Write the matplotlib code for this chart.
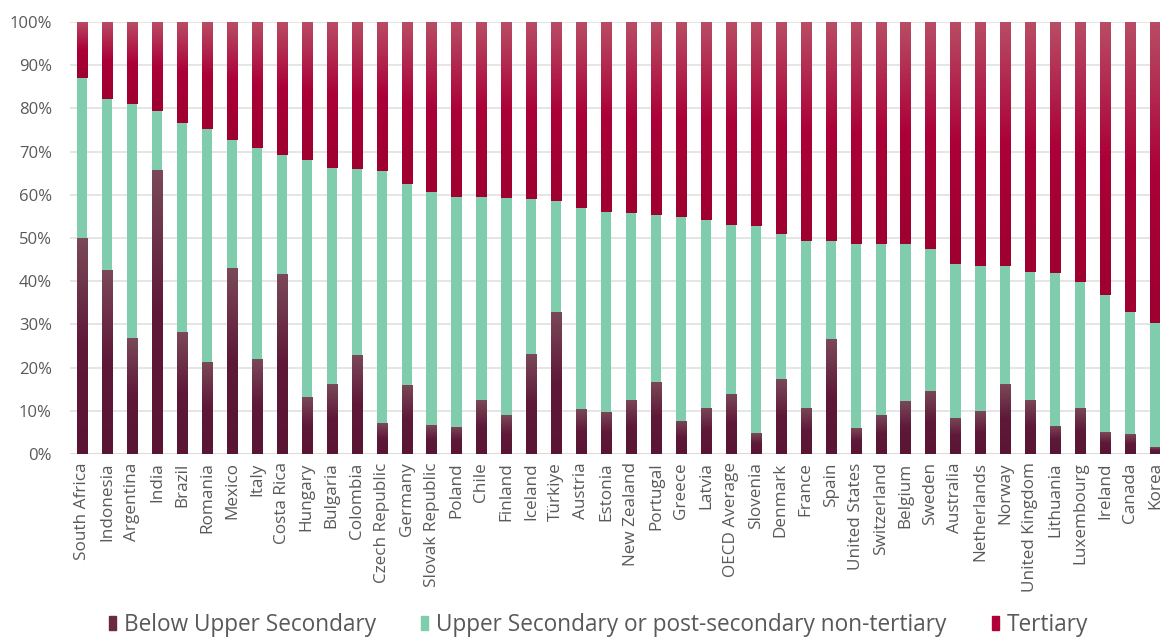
import matplotlib
matplotlib.use("Agg")
import matplotlib.pyplot as plt
import numpy as np
from matplotlib.colors import LinearSegmentedColormap
from matplotlib.patches import Patch

countries = ["South Africa", "Indonesia", "Argentina", "India", "Brazil", "Romania", "Mexico",
             "Italy", "Costa Rica", "Hungary", "Bulgaria", "Colombia", "Czech Republic", "Germany",
             "Slovak Republic", "Poland", "Chile", "Finland", "Iceland", "Türkiye", "Austria",
             "Estonia", "New Zealand", "Portugal", "Greece", "Latvia", "OECD Average", "Slovenia",
             "Denmark", "France", "Spain", "United States", "Switzerland", "Belgium", "Sweden",
             "Australia", "Netherlands", "Norway", "United Kingdom", "Lithuania", "Luxembourg",
             "Ireland", "Canada", "Korea"]

below_upper_secondary = [49.9, 42.5, 26.8, 65.7, 28.2, 21.3, 43.0, 22.0, 41.6, 13.1, 16.1, 22.8,
                         7.1, 16.0, 6.7, 6.3, 12.5, 9.0, 23.1, 32.9, 10.3, 9.8, 12.6, 16.7, 7.7,
                         10.7, 13.9, 4.8, 17.3, 10.7, 26.5, 5.9, 9.1, 12.2, 14.6, 8.4, 9.9, 16.1,
                         12.6, 6.5, 10.7, 5.0, 4.6, 1.6]
# cumulative top of "upper secondary" segment
upper_secondary_top = [87.0, 82.1, 81.1, 79.5, 76.7, 75.3, 72.7, 70.8, 69.1, 68.0, 66.1, 65.9,
                       65.4, 62.6, 60.7, 59.5, 59.5, 59.3, 59.0, 58.6, 56.9, 56.0, 55.8, 55.4,
                       54.8, 54.2, 52.9, 52.7, 51.0, 49.4, 49.4, 48.6, 48.6, 48.6, 47.5, 43.9,
                       43.5, 43.5, 42.2, 41.8, 39.8, 36.7, 32.9, 30.2]

below = np.array(below_upper_secondary)
upper = np.array(upper_secondary_top) - below
tertiary = 100 - np.array(upper_secondary_top)

fig = plt.figure(figsize=(11.6, 6.37), dpi=100)
ax = fig.add_axes([0.0602, 0.2874, 0.9463, 0.678])

x = np.arange(len(countries))
w = 0.41

maroon_cmap = LinearSegmentedColormap.from_list("m", ["#5a1535", "#5e1838", "#7a4858"])
red_cmap = LinearSegmentedColormap.from_list("r", ["#9e0030", "#ab0038", "#b84c64"])
green = "#80cdae"

grad = np.linspace(0, 1, 64).reshape(-1, 1)

b1 = ax.bar(x, below, w, color="#5e1838", zorder=2)
b2 = ax.bar(x, upper, w, bottom=below, color=green, zorder=2)
b3 = ax.bar(x, tertiary, w, bottom=below + upper, color="#a8003a", zorder=2)

for bars, cmap in ((b1, maroon_cmap), (b3, red_cmap)):
    for r in bars:
        x0, y0 = r.get_x(), r.get_y()
        x1, y1 = x0 + r.get_width(), y0 + r.get_height()
        im = ax.imshow(grad, cmap=cmap, aspect="auto", origin="lower",
                       extent=[x0, x1, y0, y1], zorder=3, interpolation="bilinear")
        im.set_clip_path(r)

ax.set_xlim(-0.5, len(countries) - 0.5)
ax.set_ylim(0, 100)
ax.set_yticks(np.arange(0, 101, 10))
ax.set_yticklabels([f"{v}%" for v in range(0, 101, 10)], fontsize=12, color="#595959",
                   family="Open Sans")
ax.set_xticks(x)
ax.set_xticklabels(countries, rotation=90, fontsize=12.3, color="#595959", family="Open Sans")
ax.tick_params(axis="both", length=0, pad=6)
ax.tick_params(axis="y", pad=13)
ax.grid(axis="y", color="#e0e0e0", linewidth=1.2, zorder=0)
ax.set_axisbelow(True)
for s in ax.spines.values():
    s.set_visible(False)
ax.axhline(0, color="#d9d9d9", linewidth=1.2, zorder=1)

handles = [Patch(color="#6a2a44"), Patch(color=green), Patch(color="#b00038")]
labels = ["Below Upper Secondary", "Upper Secondary or post-secondary non-tertiary", "Tertiary"]
fig.legend(handles, labels, loc="center", bbox_to_anchor=(0.516, 0.019), ncol=3, frameon=False,
           prop={"family": "Open Sans", "size": 16.3}, handlelength=0.3, handleheight=0.6,
           handletextpad=0.35, columnspacing=2.0, labelcolor="#595959")

fig.savefig("out.png", dpi=100)
